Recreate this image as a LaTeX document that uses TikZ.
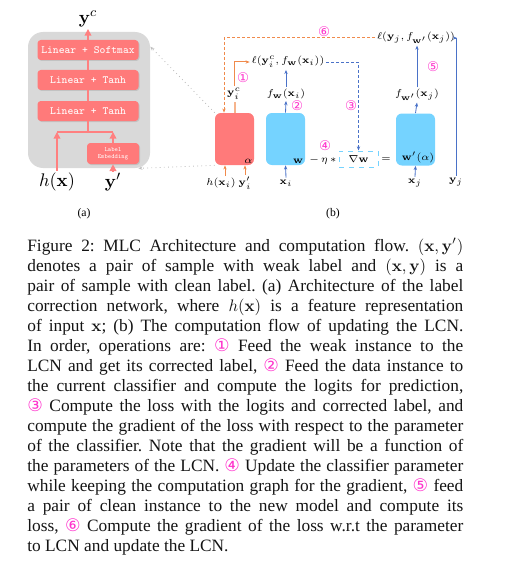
\documentclass[tikz,border=0pt]{standalone}
\usepackage[no-math]{fontspec}
\setmainfont{Liberation Serif}
\newfontfamily\circfont{DejaVu Sans}
\usetikzlibrary{arrows.meta,shadows,calc}
\definecolor{lcnred}{RGB}{255,122,122}
\definecolor{bgrey}{RGB}{217,217,217}
\definecolor{skyb}{RGB}{117,211,255}
\definecolor{arrblue}{RGB}{74,114,200}
\definecolor{orng}{RGB}{240,138,75}
\definecolor{lorng}{RGB}{246,180,140}
\definecolor{cmag}{RGB}{255,51,204}
\definecolor{dotgrey}{RGB}{190,190,190}
\definecolor{pinkarr}{RGB}{255,128,128}
\definecolor{captxt}{RGB}{20,20,20}
\newcommand\capline[1]{\makebox[261.6pt][s]{#1}}
\newcommand\cn[1]{{\circfont\color{cmag}#1}}
\frenchspacing
\begin{document}
\begin{tikzpicture}[x=0.6pt,y=-0.6pt,
  bgbox/.style={fill=bgrey, rounded corners=9pt, minimum width=73.2pt, minimum height=81.6pt, inner sep=0pt},
  layer/.style={fill=lcnred, rounded corners=2pt, minimum width=60.6pt, minimum height=12pt, inner sep=0pt, text=white,
    font=\ttfamily\fontsize{6.6}{7}\selectfont, drop shadow={shadow xshift=0.6pt, shadow yshift=-0.6pt, opacity=0.25}},
  bigmath/.style={font=\fontsize{11}{12}\selectfont, inner sep=1pt},
  pline/.style={draw=pinkarr, line width=0.9pt},
  ptip/.style={-{Triangle[length=4pt,width=4pt]}},
  lcnbox/.style={fill=lcnred, rounded corners=3.5pt, minimum width=23.4pt, minimum height=31.2pt, inner sep=0pt},
  clfbox/.style={fill=skyb, rounded corners=3.5pt, minimum width=23.4pt, minimum height=31.2pt, inner sep=0pt},
  lab/.style={font=\fontsize{6}{7}\selectfont, inner sep=1pt},
  cnum/.style={font=\circfont\fontsize{8}{8}\selectfont, text=cmag, inner sep=0pt},
  barr/.style={draw=arrblue, line width=0.5pt, -{Stealth[length=2.5pt,width=2pt]}},
  bdash/.style={barr, dashed, dash pattern=on 1.8pt off 1.2pt},
  oarr/.style={draw=orng, line width=0.6pt, -{Stealth[length=2.5pt,width=2pt]}},
  odash/.style={oarr, dash pattern=on 1.8pt off 1.2pt},
  dotl/.style={draw=dotgrey, line width=0.5pt, dotted, -{Stealth[length=2.5pt,width=2pt,open]}},
  sub/.style={font=\fontsize{7}{8}\selectfont, inner sep=0pt}
]
\useasboundingbox (0,0) rectangle (516,572);

% ---------- panel (a)
\node[bgbox] (bg) at (89,100) {};
\node[layer] (l1) at (88,50) {Linear + Softmax};
\node[layer] (l2) at (88,80) {Linear + Tanh};
\node[layer] (l3) at (88,111) {Linear + Tanh};
\node[layer, minimum width=31.2pt, minimum height=12.6pt, align=center,
  font=\ttfamily\fontsize{3.8}{4.4}\selectfont] (emb) at (113,153.5) {Label\\Embedding};
\node[bigmath] (yc) at (88,19) {$\mathbf{y}^c$};
\node[bigmath] (hx) at (57,182) {$h(\mathbf{x})$};
\node[bigmath] (yp) at (113,182) {$\mathbf{y}'$};
\coordinate (jn) at (88,132);
\draw[pline,ptip] (l1.north) -- (yc.south);
\draw[pline] (l2.north) -- (l1.south);
\draw[pline] (l3.north) -- (l2.south);
\draw[pline] (l3.south) -- (jn);
\draw[pline] (jn -| hx) -- (jn -| emb);
\draw[pline,ptip] (hx.north) -- (hx.north |- jn);
\draw[pline,ptip] (emb.north) -- (emb.north |- jn);
\draw[pline,ptip] (yp.north) -- (emb.south);

% ---------- panel (b)
\node[lcnbox] (lcn) at (234.5,139) {};
\node[clfbox] (clf) at (285.5,139) {};
\node[clfbox] (clf2) at (415.5,139.5) {};
\node[lab, anchor=south east] (alab) at (lcn.south east) {$\alpha$};
\node[lab, anchor=south east] (wlab) at (clf.south east) {$\mathbf{w}$};
\node[lab, anchor=south east, inner sep=0.5pt] (w2lab) at ([yshift=1pt]clf2.south east) {$\mathbf{w}'(\alpha)$};
\node[lab] (eta) at (323,160) {$-\,\eta\,*$};
\node[lab, draw=skyb, dashed, line width=0.6pt, minimum width=23.4pt, minimum height=9.6pt] (grad) at (358.5,159) {$\nabla\mathbf{w}$};
\node[lab] (eq) at (386,160) {$=$};

\node[lab] (hxi) at (221,183) {$h(\mathbf{x}_i)$};
\node[lab] (ypi) at (245,183) {$\mathbf{y}_i'$};
\node[lab] (xi) at (286,183) {$\mathbf{x}_i$};
\node[lab] (xj) at (415,183) {$\mathbf{x}_j$};
\node[lab] (yj) at (456,182) {$\mathbf{y}_j$};
\node[lab] (yic) at (234,94) {$\mathbf{y}_i^c$};
\node[lab] (fwxi) at (286,94) {$f_{\mathbf{w}}(\mathbf{x}_i)$};
\node[lab] (li) at (288,62) {$\ell(\mathbf{y}_i^c, f_{\mathbf{w}}(\mathbf{x}_i))$};
\node[lab] (fwxj) at (417,95) {$f_{\mathbf{w}'}(\mathbf{x}_j)$};
\node[lab] (lj) at (416,38) {$\ell(\mathbf{y}_j, f_{\mathbf{w}'}(\mathbf{x}_j))$};

\node[cnum] (c1) at (243,78) {①};
\node[cnum] (c2) at (297,106) {②};
\node[cnum] (c3) at (351,106) {③};
\node[cnum] (c4) at (325,146) {④};
\node[cnum] (c5) at (433,67) {⑤};
\node[cnum] (c6) at (324,32) {⑥};

\draw[oarr] ([xshift=2.4pt]hxi.north) -- ([xshift=2.4pt]hxi.north |- lcn.south);
\draw[oarr] (ypi.north) -- (ypi.north |- lcn.south);
\draw[draw=lorng, line width=1.2pt] (lcn.north) -- (lcn.north |- yic.south);
\draw[oarr] (yic.north) |- (li.west);
\draw[odash] (lj.west) -| ([xshift=-6.3pt]lcn.north);
\draw[barr] (xi.north) -- (clf.south);
\draw[barr] (clf.north) -- (fwxi.south);
\draw[barr] (fwxi.north) -- (fwxi.north |- li.south);
\draw[bdash] (li.east) -| (grad.north);
\draw[barr] (xj.north) -- (clf2.south);
\draw[barr] (clf2.north) -- (fwxj.south);
\draw[barr] (fwxj.north) -- (fwxj.north |- lj.south);
\draw[barr] (yj.north) |- (lj.east);
\draw[dotl] (lcn.north west) -- ([yshift=-9pt]bg.north east);
\draw[dotl] (lcn.south west) -- ([xshift=-7.2pt]bg.south east);

\node[sub] (suba) at (84,214) {(a)};
\node[sub] (subb) at (333,214) {(b)};

% ---------- caption
\node[anchor=north west, inner sep=0pt, align=left, text=captxt, font=\fontsize{10.4}{12}\selectfont] (cap) at (27,235.7) {%
\capline{\rule{0pt}{9pt}Figure 2: MLC Architecture and computation flow. $(\mathbf{x},\mathbf{y}')$}\\
\capline{denotes a pair of sample with weak label and $(\mathbf{x},\mathbf{y})$ is a}\\
\capline{pair of sample with clean label. (a) Architecture of the label}\\
\capline{correction network, where $h(\mathbf{x})$ is a feature representation}\\
\capline{of input $\mathbf{x}$; (b) The computation flow of updating the LCN.}\\
\capline{In order, operations are: \cn{①} Feed the weak instance to the}\\
\capline{LCN and get its corrected label, \cn{②} Feed the data instance to}\\
\capline{the current classifier and compute the logits for prediction,}\\
\capline{\cn{③} Compute the loss with the logits and corrected label, and}\\
\capline{compute the gradient of the loss with respect to the parameter}\\
\capline{of the classifier. Note that the gradient will be a function of}\\
\capline{the parameters of the LCN. \cn{④} Update the classifier parameter}\\
\capline{while keeping the computation graph for the gradient, \cn{⑤} feed}\\
\capline{a pair of clean instance to the new model and compute its}\\
\capline{loss, \cn{⑥} Compute the gradient of the loss w.r.t the parameter}\\
to LCN and update the LCN.};
\end{tikzpicture}
\end{document}
